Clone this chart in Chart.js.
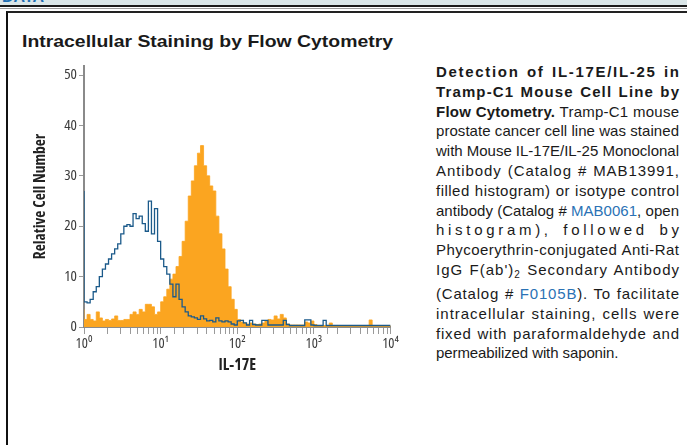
<!DOCTYPE html>
<html>
<head>
<meta charset="utf-8">
<script src="https://cdn.jsdelivr.net/npm/chart.js@4/dist/chart.umd.min.js"></script>
<style>
  html, body { margin: 0; padding: 0; background: #fff; width: 687px; height: 445px; overflow: hidden; position: relative; }
  #strip { position: absolute; left: 0; top: 0; width: 687px; height: 6px; background: #dae6e8; overflow: hidden; }
  #strip span { position: absolute; left: 2px; top: -12px; font: bold 16px "Liberation Sans", Arial, sans-serif; color: #1f6fb2; }
  #rule1 { position: absolute; left: 0; top: 5px; width: 687px; height: 2px; background: #1a1a1a; }
  #rule2 { position: absolute; left: 0; top: 8px; width: 687px; height: 1px; background: #9a9a9a; }
  #box { position: absolute; left: 6px; top: 11px; width: 700px; height: 460px; border-left: 2px solid #111; border-top: 2px solid #222; }
  #title { position: absolute; left: 22px; top: 32px; font: bold 17px "Liberation Sans", Arial, sans-serif; color: #1a1a1a; line-height: 20px; white-space: nowrap; transform-origin: 0 50%; }
  #chartWrap { position: absolute; left: 10px; top: 55px; width: 390px; height: 320px; }
  #para { position: absolute; left: 436px; top: 62px; width: 244px; font-family: "Liberation Sans", Arial, sans-serif; font-size: 15px; color: #1a1a1a; }
  #para .ln { display: block; height: 19.8px; line-height: 19.8px; white-space: nowrap; }
  #para .ln span.t { display: inline-block; white-space: nowrap; }
  #para b { font-weight: bold; }
  #para .lk { color: #2a72b5; }
  #para sub { font-size: 10px; line-height: 0; vertical-align: -3px; }
  #para .tall { height: 24px; }
</style>
</head>
<body>
<div id="strip"><span>DATA</span></div>
<div id="rule1"></div>
<div id="rule2"></div>
<div id="box"></div>
<div id="title">Intracellular Staining by Flow Cytometry</div>
<div id="chartWrap"><canvas id="c" width="390" height="320"></canvas></div>
<div id="para">
  <div class="ln"><span class="t j"><b>Detection of IL-17E/IL-25 in</b></span></div>
  <div class="ln"><span class="t j"><b>Tramp-C1 Mouse Cell Line by</b></span></div>
  <div class="ln"><span class="t j"><b>Flow Cytometry.</b> Tramp-C1 mouse</span></div>
  <div class="ln"><span class="t j">prostate cancer cell line was stained</span></div>
  <div class="ln"><span class="t j">with Mouse IL-17E/IL-25 Monoclonal</span></div>
  <div class="ln"><span class="t j">Antibody (Catalog # MAB13991,</span></div>
  <div class="ln"><span class="t j">filled histogram) or isotype control</span></div>
  <div class="ln"><span class="t j">antibody (Catalog # <span class="lk">MAB0061</span>, open</span></div>
  <div class="ln"><span class="t j">histogram), followed by</span></div>
  <div class="ln"><span class="t j">Phycoerythrin-conjugated Anti-Rat</span></div>
  <div class="ln tall"><span class="t j">IgG F(ab')<sub>2</sub> Secondary Antibody</span></div>
  <div class="ln"><span class="t j">(Catalog # <span class="lk">F0105B</span>). To facilitate</span></div>
  <div class="ln"><span class="t j">intracellular staining, cells were</span></div>
  <div class="ln"><span class="t j">fixed with paraformaldehyde and</span></div>
  <div class="ln"><span class="t" style="letter-spacing:-0.1px">permeabilized with saponin.</span></div>
</div>
<script>
// ---- data ----
const binsPerDecade = 25;          // histogram bins per decade of IL-17E fluorescence
const xTickLabels = ['10\u2070', '10\u00B9', '10\u00B2', '10\u00B3', '10\u2074'];
const yTicks = [0, 10, 20, 30, 40, 50];

// filled histogram: anti-IL-17E/IL-25 (MAB13991)
const filledCounts = [
  3.5, 1.5, 2.5, 1.5, 1.2, 3, 1.8, 1.2, 1.5, 1.3,
  1.6, 2.2, 1.3, 1.3, 1.5, 1.5, 2.5, 3, 2.5, 3.5,
  3, 4.5, 4.5, 4, 2.5, 3, 5, 6, 7.5, 9.5,
  10.5, 12, 14, 17, 21, 26, 29, 32, 34.5, 36,
  32, 30, 28, 27, 22, 18.5, 15.5, 11.5, 8, 5.5,
  3.5, 1.5, 1.0, 0.8, 0.6, 0.8, 0.6, 0.5, 0.6, 0.8,
  1.2, 1.5, 1.4, 2.2, 1.6, 2.5, 1.8, 0.6, 0.4, 0.4,
  0.4, 0.4, 0.4, 1.0, 0.8, 1.2, 0.5, 0.3, 0.3, 0.3,
  0.3, 0.8, 0.3, 0.3, 0.3, 0.3, 0.3, 0.3, 0.3, 0.3,
  0.3, 0.3, 0.3, 0.3, 1.4, 0.3, 0.3, 0.3, 0.3, 0.3
];

// open histogram: isotype control (MAB0061)
const isotypeCounts = [
  27, 5, 4.8, 5.5, 7, 8, 10, 11.5, 12.5, 13.5,
  14.5, 15.5, 16.5, 18.5, 20, 20.3, 20, 22.5, 21.5, 22,
  20.5, 19, 25, 18.5, 23.5, 17, 13.5, 12, 10.5, 8.5,
  6, 8.5, 5.5, 4, 3, 2.2, 2, 1.8, 1.5, 2.2,
  1.6, 1.2, 1.3, 1.0, 1.8, 1.2, 1.0, 1.2, 1.0, 0.6,
  0.4, 1.2, 1.3, 0.8, 0.4, 1.3, 0.5, 0.4, 0.4, 1.3,
  1.3, 0.4, 0.4, 0.4, 0.4, 0.4, 1.3, 0.5, 0.3, 0.3,
  0.3, 0.3, 0.3, 1.4, 1.4, 0.4, 0.3, 0.3, 0.3, 1.3,
  0.3, 0.3, 0.3, 0.3, 0.3, 0.3, 0.3, 0.3, 0.3, 0.3,
  0.3, 0.3, 0.3, 0.3, 0.3, 0.3, 0.3, 0.3, 0.3, 0.3
];

// ---- fonts: condensed sans for the axes ----
let axisFamily = '"Roboto Condensed", "DejaVu Sans Condensed", sans-serif';
let stretch = '';
(function () {
  const c = document.createElement('canvas').getContext('2d');
  c.font = 'bold 16px "Open Sans"';
  const a = c.measureText('Relative Cell Number').width;
  c.font = 'bold condensed 16px "Open Sans"';
  const b = c.measureText('Relative Cell Number').width;
  if (b < a - 10) { axisFamily = '"Open Sans", sans-serif'; stretch = ' condensed'; }
})();

// ---- build ----
function toPoints(counts) {
  const pts = counts.map((v, i) => ({ x: Math.pow(10, i / binsPerDecade), y: v }));
  pts.push({ x: Math.pow(10, counts.length / binsPerDecade), y: counts[counts.length - 1] });
  return pts;
}

new Chart(document.getElementById('c'), {
  type: 'line',
  data: {
    datasets: [
      {
        label: 'Isotype control',
        data: toPoints(isotypeCounts),
        stepped: 'after',
        borderColor: '#1b5a8a',
        borderWidth: 1.3,
        fill: false,
        pointRadius: 0,
        order: 0
      },
      {
        label: 'MAB13991',
        data: toPoints(filledCounts),
        stepped: 'after',
        borderColor: '#fba520',
        borderWidth: 0.8,
        backgroundColor: '#fba520',
        fill: 'origin',
        pointRadius: 0,
        order: 1
      }
    ]
  },
  options: {
    responsive: false,
    animation: false,
    devicePixelRatio: 1,
    layout: { padding: { top: 8, right: 9, left: 0, bottom: 0 } },
    plugins: { legend: { display: false }, tooltip: { enabled: false } },
    scales: {
      x: {
        type: 'logarithmic',
        min: 1,
        max: 10000,
        afterFit(s) { s.height = 48; },
        border: { display: true, color: '#8a8a8a', width: 2 },
        grid: { drawOnChartArea: false, drawTicks: true, tickLength: 7, color: '#9a9a9a', lineWidth: 1 },
        ticks: {
          autoSkip: false, maxRotation: 0, minRotation: 0, padding: 1,
          color: '#3a3a3a', font: { family: axisFamily, size: 14.5, weight: ('normal' + stretch) },
          callback(v) {
            const l = Math.log10(v);
            return Math.abs(l - Math.round(l)) < 1e-9 ? xTickLabels[Math.round(l)] : '';
          }
        },
        title: {
          display: true, text: 'IL-17E', color: '#222',
          font: { family: axisFamily, size: 16, weight: ('bold' + stretch) },
          padding: { top: 0, bottom: 0 }
        }
      },
      y: {
        min: 0,
        max: 51.8,
        afterFit(s) { s.width = 74; },
        afterBuildTicks(s) { s.ticks = yTicks.map(v => ({ value: v })); },
        border: { display: true, color: '#8a8a8a', width: 2 },
        grid: { drawOnChartArea: false, drawTicks: true, tickLength: 5, color: '#9a9a9a', lineWidth: 1 },
        ticks: { padding: 2, color: '#3a3a3a', font: { family: axisFamily, size: 15, weight: ('normal' + stretch) } },
        title: {
          display: true, text: 'Relative Cell Number', color: '#222',
          font: { family: axisFamily, size: 15.5, weight: ('bold' + stretch) },
          padding: { top: 21, bottom: 0 }
        }
      }
    }
  }
});

// title: stretch to the reference width
(function () {
  const t = document.getElementById('title');
  const w = t.getBoundingClientRect().width;
  t.style.transform = 'scaleX(' + (371 / w) + ')';
})();

// inter-character justification of the caption lines
const W = 243;
document.querySelectorAll('#para .j').forEach(el => {
  el.style.letterSpacing = '0px';
  el.style.wordSpacing = '0px';
  const w = el.getBoundingClientRect().width;
  const txt = el.textContent;
  const n = txt.length;
  const s = (txt.match(/ /g) || []).length;
  const ls = (W - w) / (n - 1 + s);
  el.style.letterSpacing = ls + 'px';
  el.style.wordSpacing = ls + 'px';
});
</script>
</body>
</html>
